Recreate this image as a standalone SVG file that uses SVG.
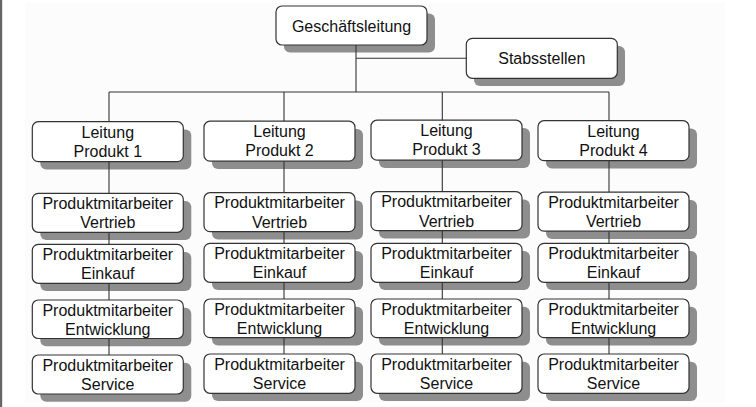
<svg xmlns="http://www.w3.org/2000/svg" width="756" height="407" viewBox="0 0 756 407">
<style>
.sh{fill:#8e8e8e}
.bx{fill:#ffffff;stroke:#333333;stroke-width:1.2}
.t{font-family:"Liberation Sans",Arial,sans-serif;font-size:16px;fill:#111111;text-anchor:middle}
.c{stroke:#333333;stroke-width:1.1;fill:none}
</style>
<rect x="0" y="0" width="756" height="407" fill="#ffffff"/>
<rect x="25" y="3" width="700" height="400" fill="#fcfcfc"/>
<rect x="0" y="0" width="2.2" height="407" fill="#666666"/>

<g id="geschaeftsleitung">
<rect class="sh" x="284" y="13.5" width="151" height="39" rx="6"/>
<rect class="bx" x="276" y="6" width="151" height="39" rx="6"/>
<text class="t" x="351.5" y="31.5">Geschäftsleitung</text>
</g>
<g id="stabsstellen">
<rect class="sh" x="474" y="46" width="151" height="40" rx="6"/>
<rect class="bx" x="466.3" y="38.3" width="151" height="40" rx="6"/>
<text class="t" x="541.8" y="64">Stabsstellen</text>
</g>

<g id="leitung1"><rect class="sh" x="40.3" y="129.5" width="151" height="40" rx="6"/><rect class="bx" x="32.3" y="121.7" width="151" height="40" rx="6"/><text class="t" x="107.8" y="137.7">Leitung</text><text class="t" x="107.8" y="156.7">Produkt 1</text></g>
<g id="leitung2"><rect class="sh" x="212" y="129" width="151" height="40" rx="6"/><rect class="bx" x="204" y="121.2" width="151" height="40" rx="6"/><text class="t" x="279.5" y="137.2">Leitung</text><text class="t" x="279.5" y="156.2">Produkt 2</text></g>
<g id="leitung3"><rect class="sh" x="379" y="128" width="151" height="40" rx="6"/><rect class="bx" x="371" y="120.2" width="151" height="40" rx="6"/><text class="t" x="446.5" y="136.2">Leitung</text><text class="t" x="446.5" y="155.2">Produkt 3</text></g>
<g id="leitung4"><rect class="sh" x="546" y="128.5" width="151" height="40" rx="6"/><rect class="bx" x="538" y="120.7" width="151" height="40" rx="6"/><text class="t" x="613.5" y="136.7">Leitung</text><text class="t" x="613.5" y="155.7">Produkt 4</text></g>

<g id="p1-vertrieb"><rect class="sh" x="40.3" y="201" width="151" height="39" rx="6"/><rect class="bx" x="32.3" y="193.3" width="151" height="39" rx="6"/><text class="t" x="107.8" y="209">Produktmitarbeiter</text><text class="t" x="107.8" y="228.3">Vertrieb</text></g>
<g id="p1-einkauf"><rect class="sh" x="40.3" y="252" width="151" height="39" rx="6"/><rect class="bx" x="32.3" y="244.3" width="151" height="39" rx="6"/><text class="t" x="107.8" y="260">Produktmitarbeiter</text><text class="t" x="107.8" y="279.3">Einkauf</text></g>
<g id="p1-entwicklung"><rect class="sh" x="40.3" y="307.7" width="151" height="38.5" rx="6"/><rect class="bx" x="32.3" y="300" width="151" height="38.5" rx="6"/><text class="t" x="107.8" y="315.7">Produktmitarbeiter</text><text class="t" x="107.8" y="335">Entwicklung</text></g>
<g id="p1-service"><rect class="sh" x="40.3" y="362.7" width="151" height="39" rx="6"/><rect class="bx" x="32.3" y="355" width="151" height="39" rx="6"/><text class="t" x="107.8" y="370.7">Produktmitarbeiter</text><text class="t" x="107.8" y="390">Service</text></g>

<g id="p2-vertrieb"><rect class="sh" x="212" y="200.5" width="151" height="39" rx="6"/><rect class="bx" x="204" y="192.7" width="151" height="39" rx="6"/><text class="t" x="279.5" y="208.4">Produktmitarbeiter</text><text class="t" x="279.5" y="227.7">Vertrieb</text></g>
<g id="p2-einkauf"><rect class="sh" x="212" y="251" width="151" height="39" rx="6"/><rect class="bx" x="204" y="243.3" width="151" height="39" rx="6"/><text class="t" x="279.5" y="259">Produktmitarbeiter</text><text class="t" x="279.5" y="278.3">Einkauf</text></g>
<g id="p2-entwicklung"><rect class="sh" x="212" y="306.7" width="151" height="38.7" rx="6"/><rect class="bx" x="204" y="299" width="151" height="38.7" rx="6"/><text class="t" x="279.5" y="314.7">Produktmitarbeiter</text><text class="t" x="279.5" y="334">Entwicklung</text></g>
<g id="p2-service"><rect class="sh" x="212" y="361.7" width="151" height="39.3" rx="6"/><rect class="bx" x="204" y="354" width="151" height="39.3" rx="6"/><text class="t" x="279.5" y="369.7">Produktmitarbeiter</text><text class="t" x="279.5" y="389">Service</text></g>

<g id="p3-vertrieb"><rect class="sh" x="379" y="199.5" width="151" height="39" rx="6"/><rect class="bx" x="371" y="191.7" width="151" height="39" rx="6"/><text class="t" x="446.5" y="207.4">Produktmitarbeiter</text><text class="t" x="446.5" y="226.7">Vertrieb</text></g>
<g id="p3-einkauf"><rect class="sh" x="379" y="251" width="151" height="39" rx="6"/><rect class="bx" x="371" y="243.3" width="151" height="39" rx="6"/><text class="t" x="446.5" y="259">Produktmitarbeiter</text><text class="t" x="446.5" y="278.3">Einkauf</text></g>
<g id="p3-entwicklung"><rect class="sh" x="379" y="306.7" width="151" height="38.7" rx="6"/><rect class="bx" x="371" y="299" width="151" height="38.7" rx="6"/><text class="t" x="446.5" y="314.7">Produktmitarbeiter</text><text class="t" x="446.5" y="334">Entwicklung</text></g>
<g id="p3-service"><rect class="sh" x="379" y="361.7" width="151" height="39.3" rx="6"/><rect class="bx" x="371" y="354" width="151" height="39.3" rx="6"/><text class="t" x="446.5" y="369.7">Produktmitarbeiter</text><text class="t" x="446.5" y="389">Service</text></g>

<g id="p4-vertrieb"><rect class="sh" x="546" y="200" width="151" height="39" rx="6"/><rect class="bx" x="538" y="192.2" width="151" height="39" rx="6"/><text class="t" x="613.5" y="207.9">Produktmitarbeiter</text><text class="t" x="613.5" y="227.2">Vertrieb</text></g>
<g id="p4-einkauf"><rect class="sh" x="546" y="251" width="151" height="39" rx="6"/><rect class="bx" x="538" y="243.3" width="151" height="39" rx="6"/><text class="t" x="613.5" y="259">Produktmitarbeiter</text><text class="t" x="613.5" y="278.3">Einkauf</text></g>
<g id="p4-entwicklung"><rect class="sh" x="546" y="306.7" width="151" height="38.7" rx="6"/><rect class="bx" x="538" y="299" width="151" height="38.7" rx="6"/><text class="t" x="613.5" y="314.7">Produktmitarbeiter</text><text class="t" x="613.5" y="334">Entwicklung</text></g>
<g id="p4-service"><rect class="sh" x="546" y="361.7" width="151" height="39.3" rx="6"/><rect class="bx" x="538" y="354" width="151" height="39.3" rx="6"/><text class="t" x="613.5" y="369.7">Produktmitarbeiter</text><text class="t" x="613.5" y="389">Service</text></g>

<g id="connectors" class="c">
<path d="M356 45 V92 M356 58.3 H466.3 M109 92 H609"/>
<path d="M109 92 V121.7 M109 161.7 V193.3 M109 232.3 V244.3 M109 283.3 V300 M109 338.5 V355"/>
<path d="M284 92 V121.2 M284 161.2 V192.7 M284 231.7 V243.3 M284 282.3 V299 M284 337.7 V354"/>
<path d="M442.3 92 V120.2 M442.3 160.2 V191.7 M442.3 230.7 V243.3 M442.3 282.3 V299 M442.3 337.7 V354"/>
<path d="M609 92 V120.7 M609 160.7 V192.2 M609 231.2 V243.3 M609 282.3 V299 M609 337.7 V354"/>
</g>
</svg>
